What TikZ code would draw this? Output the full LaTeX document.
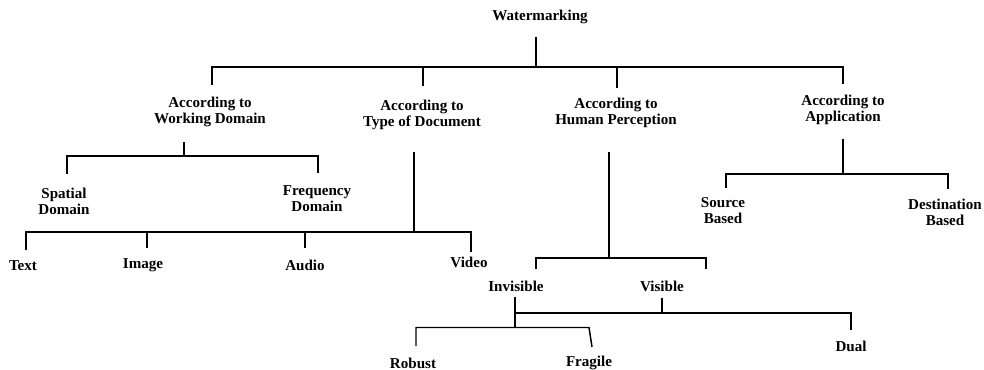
\documentclass[tikz,border=0pt]{standalone}
\usepackage{fontspec}
\setmainfont{Liberation Serif}
\begin{document}
\begin{tikzpicture}[x=0.75pt,y=-0.75pt,
  lbl/.style={inner sep=0pt,align=center,font=\fontsize{11.3}{12}\selectfont\bfseries},
  conn/.style={line width=1.1pt,line cap=butt,line join=miter}]
\useasboundingbox (0,0) rectangle (984,370);
% nodes
\node[lbl] (W)  at (540,17) {Watermarking};
\node[lbl] (WD) at (210,112) {According to\\Working Domain};
\node[lbl] (TD) at (422,115) {According to\\Type of Document};
\node[lbl] (HP) at (616,113) {According to\\Human Perception};
\node[lbl] (AP) at (843,110) {According to\\Application};
\node[lbl] (SD) at (64,201) {Spatial\\Domain};
\node[lbl] (FD) at (317,199) {Frequency\\Domain};
\node[lbl] (TX) at (23,266) {Text};
\node[lbl] (IM) at (143,265) {Image};
\node[lbl] (AU) at (305,265) {Audio};
\node[lbl] (VI) at (469,262) {Video};
\node[lbl] (SB) at (723,211) {Source\\Based};
\node[lbl] (DB) at (945,212) {Destination\\Based};
\node[lbl] (INV) at (516,286) {Invisible};
\node[lbl] (VIS) at (662,286) {Visible};
\node[lbl] (RO) at (413,363) {Robust};
\node[lbl] (FR) at (589,363) {Fragile};
\node[lbl] (DU) at (851,346) {Dual};
% connector end points
\coordinate (W-s) at (536,37);
\coordinate (W-b) at (536,67);
\coordinate (WD-n) at (212,85);
\coordinate (TD-n) at (423,86);
\coordinate (HP-n) at (617,88);
\coordinate (AP-n) at (843,84);
\coordinate (WD-s) at (184,142);
\coordinate (WD-b) at (184,156);
\coordinate (SD-n) at (67,174);
\coordinate (FD-n) at (318,173);
\coordinate (TD-s) at (414,152);
\coordinate (TD-b) at (414,232);
\coordinate (TX-n) at (26,250);
\coordinate (IM-n) at (147,248);
\coordinate (AU-n) at (305,248);
\coordinate (VI-n) at (471,252);
\coordinate (HP-s) at (609,152);
\coordinate (HP-b) at (609,258);
\coordinate (INV-n) at (536,269);
\coordinate (VIS-n) at (706,269);
\coordinate (AP-s) at (843,139);
\coordinate (AP-b) at (843,174);
\coordinate (SB-n) at (726,188);
\coordinate (DB-n) at (948,189);
\coordinate (INV-s) at (515,297);
\coordinate (INV-b) at (515,313);
\coordinate (INV-c) at (515,327.5);
\coordinate (VIS-s) at (662,298);
\coordinate (DU-n) at (851,330);
\coordinate (RO-n) at (416,346);
\coordinate (FR-t) at (589,327.5);
\coordinate (FR-n) at (592,347);
% connectors
\draw[conn] (W-s) -- (W-b);
\draw[conn] (WD-n) |- (W-b) -| (AP-n);
\draw[conn] (TD-n) -- (TD-n |- W-b);
\draw[conn] (HP-n) -- (HP-n |- W-b);
\draw[conn] (WD-s) -- (WD-b);
\draw[conn] (SD-n) |- (WD-b) -| (FD-n);
\draw[conn] (TD-s) -- (TD-b);
\draw[conn] (TX-n) |- (TD-b) -| (VI-n);
\draw[conn] (IM-n) -- (IM-n |- TD-b);
\draw[conn] (AU-n) -- (AU-n |- TD-b);
\draw[conn] (HP-s) -- (HP-b);
\draw[conn] (INV-n) |- (HP-b) -| (VIS-n);
\draw[conn] (AP-s) -- (AP-b);
\draw[conn] (SB-n) |- (AP-b) -| (DB-n);
\draw[conn] (INV-s) -- (INV-c);
\draw[conn] (INV-b) -| (DU-n);
\draw[conn] (VIS-s) -- (VIS-s |- INV-b);
\draw[conn] (RO-n) |- (FR-t) -- (FR-n);
\end{tikzpicture}
\end{document}
